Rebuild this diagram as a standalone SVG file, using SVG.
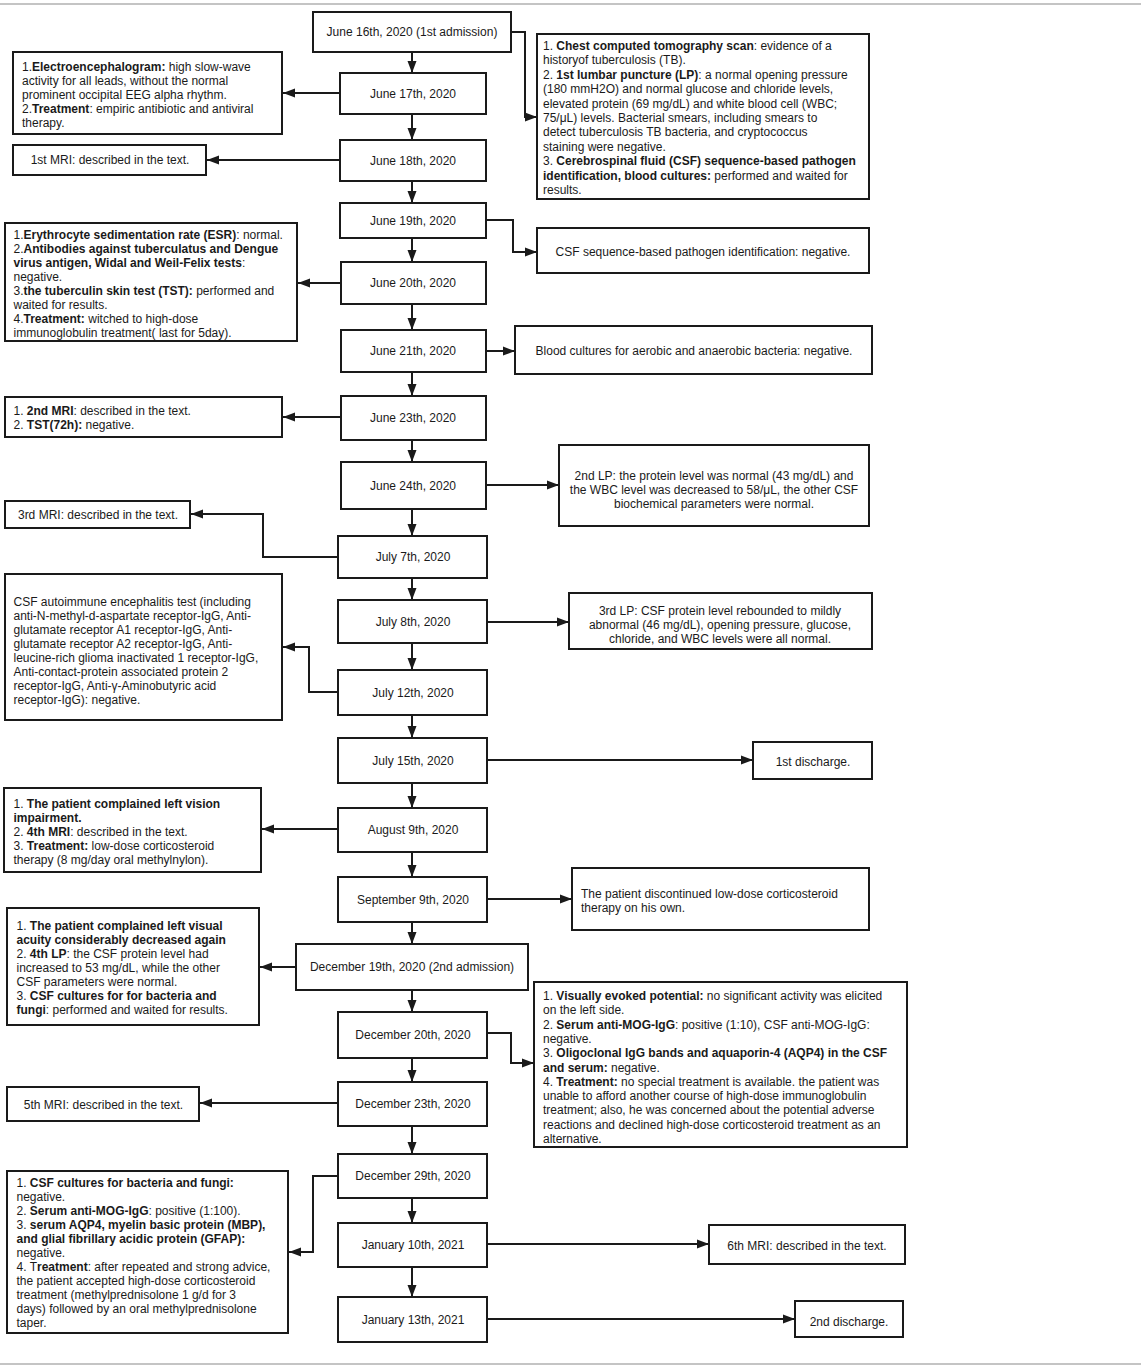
<svg xmlns="http://www.w3.org/2000/svg" width="1145" height="1369" viewBox="0 0 1145 1369">
<defs>
<marker id="ah" markerUnits="userSpaceOnUse" markerWidth="12" markerHeight="10" refX="12" refY="5" orient="auto">
<path d="M0,0.5 L12,5 L0,9.5 z" fill="#1a1a1a"/>
</marker>
<style>
.box{fill:#fff;stroke:#1a1a1a;stroke-width:2}
.t{font-family:"Liberation Sans",Arial,sans-serif;font-size:12px;fill:#1a1a1a}
.c{text-anchor:middle}
.b{font-weight:bold}
.con path,.con line{fill:none;stroke:#1a1a1a;stroke-width:2;marker-end:url(#ah)}
.rule{stroke:#c4c4c4;stroke-width:2}
</style>
</defs>
<rect width="1145" height="1369" fill="#fff"/>
<line class="rule" x1="0" y1="4" x2="1141" y2="4"/>
<line class="rule" x1="0" y1="1364" x2="1141" y2="1364"/>

<g id="connectors" class="con">
<line x1="412" y1="52" x2="412" y2="73"/>
<line x1="412" y1="114" x2="412" y2="140"/>
<line x1="412" y1="181" x2="412" y2="203"/>
<line x1="412" y1="238" x2="412" y2="262"/>
<line x1="412" y1="304" x2="412" y2="330"/>
<line x1="412" y1="372" x2="412" y2="396"/>
<line x1="412" y1="440" x2="412" y2="462"/>
<line x1="412" y1="509" x2="412" y2="536"/>
<line x1="412" y1="578" x2="412" y2="600"/>
<line x1="412" y1="643" x2="412" y2="670"/>
<line x1="412" y1="715" x2="412" y2="738"/>
<line x1="412" y1="783" x2="412" y2="808"/>
<line x1="412" y1="852" x2="412" y2="877"/>
<line x1="412" y1="922" x2="412" y2="944"/>
<line x1="412" y1="990" x2="412" y2="1012"/>
<line x1="412" y1="1058" x2="412" y2="1082"/>
<line x1="412" y1="1126" x2="412" y2="1154"/>
<line x1="412" y1="1198" x2="412" y2="1223"/>
<line x1="412" y1="1267" x2="412" y2="1297"/>
<path d="M511,32 H525 V117 H537"/>
<line x1="340" y1="93" x2="283" y2="93"/>
<line x1="340" y1="160" x2="207" y2="160"/>
<path d="M486,220 H513 V252 H537"/>
<line x1="341" y1="283" x2="298" y2="283"/>
<line x1="486" y1="351" x2="515" y2="351"/>
<line x1="341" y1="417" x2="283" y2="417"/>
<line x1="486" y1="485" x2="559" y2="485"/>
<path d="M338,557 H263 V514 H191"/>
<line x1="487" y1="622" x2="569" y2="622"/>
<path d="M338,692 H309 V647 H283"/>
<line x1="487" y1="760" x2="753" y2="760"/>
<line x1="338" y1="829" x2="262" y2="829"/>
<line x1="487" y1="899" x2="572" y2="899"/>
<line x1="296" y1="967" x2="260" y2="967"/>
<path d="M487,1033 H511 V1063 H534"/>
<line x1="338" y1="1103" x2="200" y2="1103"/>
<path d="M338,1176 H313 V1252 H289"/>
<line x1="487" y1="1244" x2="709" y2="1244"/>
<line x1="487" y1="1319" x2="795" y2="1319"/>
</g>

<g id="d0616"><rect class="box" x="313" y="12" width="198" height="40"/><text class="t c" x="412" y="36">June 16th, 2020 (1st admission)</text></g>
<g id="d0617"><rect class="box" x="340" y="73" width="146" height="41"/><text class="t c" x="413" y="97.5">June 17th, 2020</text></g>
<g id="d0618"><rect class="box" x="340" y="140" width="146" height="41"/><text class="t c" x="413" y="164.5">June 18th, 2020</text></g>
<g id="d0619"><rect class="box" x="340" y="203" width="146" height="35"/><text class="t c" x="413" y="224.5">June 19th, 2020</text></g>
<g id="d0620"><rect class="box" x="341" y="262" width="145" height="42"/><text class="t c" x="413" y="287">June 20th, 2020</text></g>
<g id="d0621"><rect class="box" x="341" y="330" width="145" height="42"/><text class="t c" x="413" y="355">June 21th, 2020</text></g>
<g id="d0623"><rect class="box" x="341" y="396" width="145" height="44"/><text class="t c" x="413" y="422">June 23th, 2020</text></g>
<g id="d0624"><rect class="box" x="341" y="462" width="145" height="47"/><text class="t c" x="413" y="489.5">June 24th, 2020</text></g>
<g id="d0707"><rect class="box" x="338" y="536" width="149" height="42"/><text class="t c" x="413" y="561">July 7th, 2020</text></g>
<g id="d0708"><rect class="box" x="338" y="600" width="149" height="43"/><text class="t c" x="413" y="626">July 8th, 2020</text></g>
<g id="d0712"><rect class="box" x="338" y="670" width="149" height="45"/><text class="t c" x="413" y="696.5">July 12th, 2020</text></g>
<g id="d0715"><rect class="box" x="338" y="738" width="149" height="45"/><text class="t c" x="413" y="764.5">July 15th, 2020</text></g>
<g id="d0809"><rect class="box" x="338" y="808" width="149" height="44"/><text class="t c" x="413" y="834">August 9th, 2020</text></g>
<g id="d0909"><rect class="box" x="338" y="877" width="149" height="45"/><text class="t c" x="413" y="903.5">September 9th, 2020</text></g>
<g id="d1219"><rect class="box" x="296" y="944" width="232" height="46"/><text class="t c" x="412" y="971">December 19th, 2020 (2nd admission)</text></g>
<g id="d1220"><rect class="box" x="338" y="1012" width="149" height="46"/><text class="t c" x="413" y="1039">December 20th, 2020</text></g>
<g id="d1223"><rect class="box" x="338" y="1082" width="149" height="44"/><text class="t c" x="413" y="1108">December 23th, 2020</text></g>
<g id="d1229"><rect class="box" x="338" y="1154" width="149" height="44"/><text class="t c" x="413" y="1180">December 29th, 2020</text></g>
<g id="d0110"><rect class="box" x="338" y="1223" width="149" height="44"/><text class="t c" x="413" y="1249">January 10th, 2021</text></g>
<g id="d0113"><rect class="box" x="338" y="1297" width="149" height="45"/><text class="t c" x="413" y="1323.5">January 13th, 2021</text></g>

<g id="n-eeg"><rect class="box" x="13" y="52" width="269" height="82"/>
<text class="t" x="22" y="70.5">1.<tspan class="b">Electroencephalogram:</tspan> high slow-wave</text>
<text class="t" x="22" y="84.5">activity for all leads, without the normal</text>
<text class="t" x="22" y="98.5">prominent occipital EEG alpha rhythm.</text>
<text class="t" x="22" y="112.5">2.<tspan class="b">Treatment</tspan>: empiric antibiotic and antiviral</text>
<text class="t" x="22" y="126.5">therapy.</text></g>

<g id="n-mri1"><rect class="box" x="13" y="145" width="193" height="30"/>
<text class="t c" x="110" y="164">1st MRI: described in the text.</text></g>

<g id="n-esr"><rect class="box" x="5" y="223" width="292" height="118"/>
<text class="t" x="13.5" y="238.5">1.<tspan class="b">Erythrocyte sedimentation rate (ESR)</tspan>: normal.</text>
<text class="t" x="13.5" y="252.5">2.<tspan class="b">Antibodies against tuberculatus and Dengue</tspan></text>
<text class="t" x="13.5" y="266.5"><tspan class="b">virus antigen, Widal and Weil-Felix tests</tspan>:</text>
<text class="t" x="13.5" y="280.5">negative.</text>
<text class="t" x="13.5" y="294.5">3.<tspan class="b">the tuberculin skin test (TST):</tspan> performed and</text>
<text class="t" x="13.5" y="308.5">waited for results.</text>
<text class="t" x="13.5" y="322.5">4.<tspan class="b">Treatment:</tspan> witched to high-dose</text>
<text class="t" x="13.5" y="336.5">immunoglobulin treatment( last for 5day).</text></g>

<g id="n-chestct"><rect class="box" x="537" y="34" width="332" height="165"/>
<text class="t" x="543" y="49.5">1. <tspan class="b">Chest computed tomography scan</tspan>: evidence of a</text>
<text class="t" x="543" y="64">historyof tuberculosis (TB).</text>
<text class="t" x="543" y="78.5">2. <tspan class="b">1st lumbar puncture (LP)</tspan>: a normal opening pressure</text>
<text class="t" x="543" y="93">(180 mmH2O) and normal glucose and chloride levels,</text>
<text class="t" x="543" y="107.5">elevated protein (69 mg/dL) and white blood cell (WBC;</text>
<text class="t" x="543" y="122">75/μL) levels. Bacterial smears, including smears to</text>
<text class="t" x="543" y="136">detect tuberculosis TB bacteria, and cryptococcus</text>
<text class="t" x="543" y="150.5">staining were negative.</text>
<text class="t" x="543" y="165">3. <tspan class="b">Cerebrospinal fluid (CSF) sequence-based pathogen</tspan></text>
<text class="t" x="543" y="179.5"><tspan class="b">identification, blood cultures:</tspan> performed and waited for</text>
<text class="t" x="543" y="193.5">results.</text></g>

<g id="n-csfseq"><rect class="box" x="537" y="228" width="332" height="45"/>
<text class="t c" x="703" y="256">CSF sequence-based pathogen identification: negative.</text></g>

<g id="n-blood"><rect class="box" x="515" y="326" width="357" height="48"/>
<text class="t c" x="694" y="355">Blood cultures for aerobic and anaerobic bacteria: negative.</text></g>

<g id="n-mri2"><rect class="box" x="5" y="397" width="277" height="40"/>
<text class="t" x="13.5" y="414.5">1. <tspan class="b">2nd MRI</tspan>: described in the text.</text>
<text class="t" x="13.5" y="429">2. <tspan class="b">TST(72h):</tspan> negative.</text></g>

<g id="n-lp2"><rect class="box" x="559" y="445" width="310" height="81"/>
<text class="t c" x="714" y="480">2nd LP: the protein level was normal (43 mg/dL) and</text>
<text class="t c" x="714" y="494">the WBC level was decreased to 58/μL, the other CSF</text>
<text class="t c" x="714" y="508">biochemical parameters were normal.</text></g>

<g id="n-mri3"><rect class="box" x="5" y="501" width="185" height="27"/>
<text class="t c" x="98" y="519">3rd MRI: described in the text.</text></g>

<g id="n-autoimmune"><rect class="box" x="5" y="574" width="277" height="146"/>
<text class="t" x="13.5" y="605.5">CSF autoimmune encephalitis test (including</text>
<text class="t" x="13.5" y="619.5">anti-N-methyl-d-aspartate receptor-IgG, Anti-</text>
<text class="t" x="13.5" y="633.5">glutamate receptor A1 receptor-IgG, Anti-</text>
<text class="t" x="13.5" y="647.5">glutamate receptor A2 receptor-IgG, Anti-</text>
<text class="t" x="13.5" y="661.5">leucine-rich glioma inactivated 1 receptor-IgG,</text>
<text class="t" x="13.5" y="675.5">Anti-contact-protein associated protein 2</text>
<text class="t" x="13.5" y="689.5">receptor-IgG, Anti-γ-Aminobutyric acid</text>
<text class="t" x="13.5" y="703.5">receptor-IgG): negative.</text></g>

<g id="n-lp3"><rect class="box" x="569" y="593" width="303" height="56"/>
<text class="t c" x="720" y="615">3rd LP: CSF protein level rebounded to mildly</text>
<text class="t c" x="720" y="629">abnormal (46 mg/dL), opening pressure, glucose,</text>
<text class="t c" x="720" y="643">chloride, and WBC levels were all normal.</text></g>

<g id="n-discharge1"><rect class="box" x="753" y="742" width="119" height="37"/>
<text class="t c" x="813" y="766">1st discharge.</text></g>

<g id="n-vision"><rect class="box" x="4" y="788" width="257" height="84"/>
<text class="t" x="13.5" y="807.5">1. <tspan class="b">The patient complained left vision</tspan></text>
<text class="t" x="13.5" y="821.5"><tspan class="b">impairment.</tspan></text>
<text class="t" x="13.5" y="835.5">2. <tspan class="b">4th MRI</tspan>: described in the text.</text>
<text class="t" x="13.5" y="849.5">3. <tspan class="b">Treatment:</tspan> low-dose corticosteroid</text>
<text class="t" x="13.5" y="863.5">therapy (8 mg/day oral methylnylon).</text></g>

<g id="n-discontinued"><rect class="box" x="572" y="868" width="297" height="62"/>
<text class="t" x="581" y="897.5">The patient discontinued low-dose corticosteroid</text>
<text class="t" x="581" y="912">therapy on his own.</text></g>

<g id="n-dec19"><rect class="box" x="7" y="908" width="252" height="117"/>
<text class="t" x="16.5" y="930">1. <tspan class="b">The patient complained left visual</tspan></text>
<text class="t" x="16.5" y="944"><tspan class="b">acuity considerably decreased again</tspan></text>
<text class="t" x="16.5" y="958">2. <tspan class="b">4th LP</tspan>: the CSF protein level had</text>
<text class="t" x="16.5" y="972">increased to 53 mg/dL, while the other</text>
<text class="t" x="16.5" y="986">CSF parameters were normal.</text>
<text class="t" x="16.5" y="1000">3. <tspan class="b">CSF cultures for for bacteria and</tspan></text>
<text class="t" x="16.5" y="1014"><tspan class="b">fungi</tspan>: performed and waited for results.</text></g>

<g id="n-vep"><rect class="box" x="534" y="982" width="373" height="165"/>
<text class="t" x="543" y="1000">1. <tspan class="b">Visually evoked potential:</tspan> no significant activity was elicited</text>
<text class="t" x="543" y="1014.3">on the left side.</text>
<text class="t" x="543" y="1028.6">2. <tspan class="b">Serum anti-MOG-IgG</tspan>: positive (1:10), CSF anti-MOG-IgG:</text>
<text class="t" x="543" y="1042.9">negative.</text>
<text class="t" x="543" y="1057.2">3. <tspan class="b">Oligoclonal IgG bands and aquaporin-4 (AQP4) in the CSF</tspan></text>
<text class="t" x="543" y="1071.5"><tspan class="b">and serum:</tspan> negative.</text>
<text class="t" x="543" y="1085.8">4. <tspan class="b">Treatment:</tspan> no special treatment is available. the patient was</text>
<text class="t" x="543" y="1100.1">unable to afford another course of high-dose immunoglobulin</text>
<text class="t" x="543" y="1114.4">treatment; also, he was concerned about the potential adverse</text>
<text class="t" x="543" y="1128.7">reactions and declined high-dose corticosteroid treatment as an</text>
<text class="t" x="543" y="1143">alternative.</text></g>

<g id="n-mri5"><rect class="box" x="7" y="1087" width="192" height="34"/>
<text class="t c" x="103.5" y="1109">5th MRI: described in the text.</text></g>

<g id="n-cultures"><rect class="box" x="7" y="1171" width="281" height="162"/>
<text class="t" x="16.5" y="1187">1. <tspan class="b">CSF cultures for bacteria and fungi:</tspan></text>
<text class="t" x="16.5" y="1201">negative.</text>
<text class="t" x="16.5" y="1215">2. <tspan class="b">Serum anti-MOG-IgG</tspan>: positive (1:100).</text>
<text class="t" x="16.5" y="1229">3. <tspan class="b">serum AQP4, myelin basic protein (MBP),</tspan></text>
<text class="t" x="16.5" y="1243"><tspan class="b">and glial fibrillary acidic protein (GFAP):</tspan></text>
<text class="t" x="16.5" y="1257">negative.</text>
<text class="t" x="16.5" y="1271">4. T<tspan class="b">reatment</tspan>: after repeated and strong advice,</text>
<text class="t" x="16.5" y="1285">the patient accepted high-dose corticosteroid</text>
<text class="t" x="16.5" y="1299">treatment (methylprednisolone 1 g/d for 3</text>
<text class="t" x="16.5" y="1313">days) followed by an oral methylprednisolone</text>
<text class="t" x="16.5" y="1327">taper.</text></g>

<g id="n-mri6"><rect class="box" x="709" y="1225" width="196" height="39"/>
<text class="t c" x="807" y="1250">6th MRI: described in the text.</text></g>

<g id="n-discharge2"><rect class="box" x="795" y="1301" width="108" height="36"/>
<text class="t c" x="849" y="1325.5">2nd discharge.</text></g>
</svg>
